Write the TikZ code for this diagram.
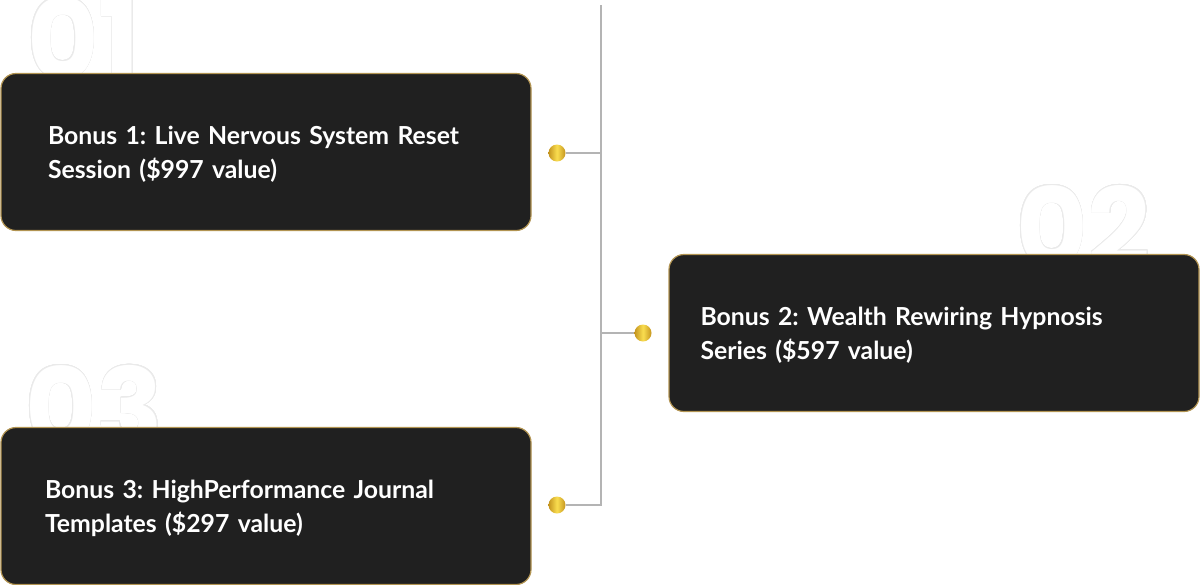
\documentclass[tikz,border=0pt]{standalone}
\usepackage{fontspec}
\usepackage{tikz}
\usetikzlibrary{positioning}
\usepackage{contour}
\setmainfont{Lato}
\newfontfamily\numfont{Poppins}
\frenchspacing
\definecolor{bxdark}{RGB}{32,32,32}
\definecolor{bxgold}{RGB}{178,148,82}
\definecolor{golddeep}{RGB}{196,148,30}
\definecolor{goldlight}{RGB}{250,222,80}
\definecolor{trunkgray}{RGB}{180,180,180}
\definecolor{numgray}{RGB}{234,234,234}
\contourlength{0.6pt}
\contournumber{24}
\tikzstyle{bonusbox} = [draw=bxgold, line width=1.2pt, fill=bxdark, rounded corners=15pt,
  minimum width=530pt, minimum height=157pt, inner xsep=0pt, align=left, text depth=33pt,
  text=white, font=\fontsize{24.8}{34}\selectfont\bfseries]
\tikzstyle{golddot} = [circle, inner sep=0pt, minimum size=17pt, left color=golddeep,
  right color=golddeep, middle color=goldlight]
\tikzstyle{bignum} = [anchor=base west, inner sep=0pt, text=white,
  font=\fontsize{110}{110}\selectfont\numfont\bfseries]
\tikzstyle{branch} = [line width=1.5pt, color=trunkgray]

\begin{document}
\begin{tikzpicture}[x=1pt, y=-1pt]
\useasboundingbox (0,0) rectangle (1200,584);

% Faint numbers behind the boxes
\node[bignum] (num1) at (27,79) {\contour{numgray}{01}};
\node[bignum] (num2) at (1016,267) {\contour{numgray}{02}};
\node[bignum] (num3) at (25,447) {\contour{numgray}{03}};

% Trunk and branches
\coordinate (top) at (601,5);
\coordinate (j1) at (601,153);
\coordinate (j2) at (601,333);
\coordinate (j3) at (601,505);
\node[golddot] (dot1) at (557,153) {};
\node[golddot] (dot2) at (643,333) {};
\node[golddot] (dot3) at (557,505) {};
\draw[branch] (top) -- (j3) -- (dot3);
\draw[branch] (j1) -- (dot1);
\draw[branch] (j2) -- (dot2);

% Bonus boxes
\node[bonusbox, text width=436pt] (bonus1) at (266,152)
  {Bonus 1: Live Nervous System Reset\\Session (\$997 value)};
\node[bonusbox, text width=467pt] (bonus2) at (934,333)
  {Bonus 2: Wealth Rewiring Hypnosis\\Series (\$597 value)};
\node[bonusbox, text width=442pt] (bonus3) at (266,506)
  {Bonus 3: HighPerformance Journal\\Templates (\$297 value)};
\end{tikzpicture}
\end{document}
